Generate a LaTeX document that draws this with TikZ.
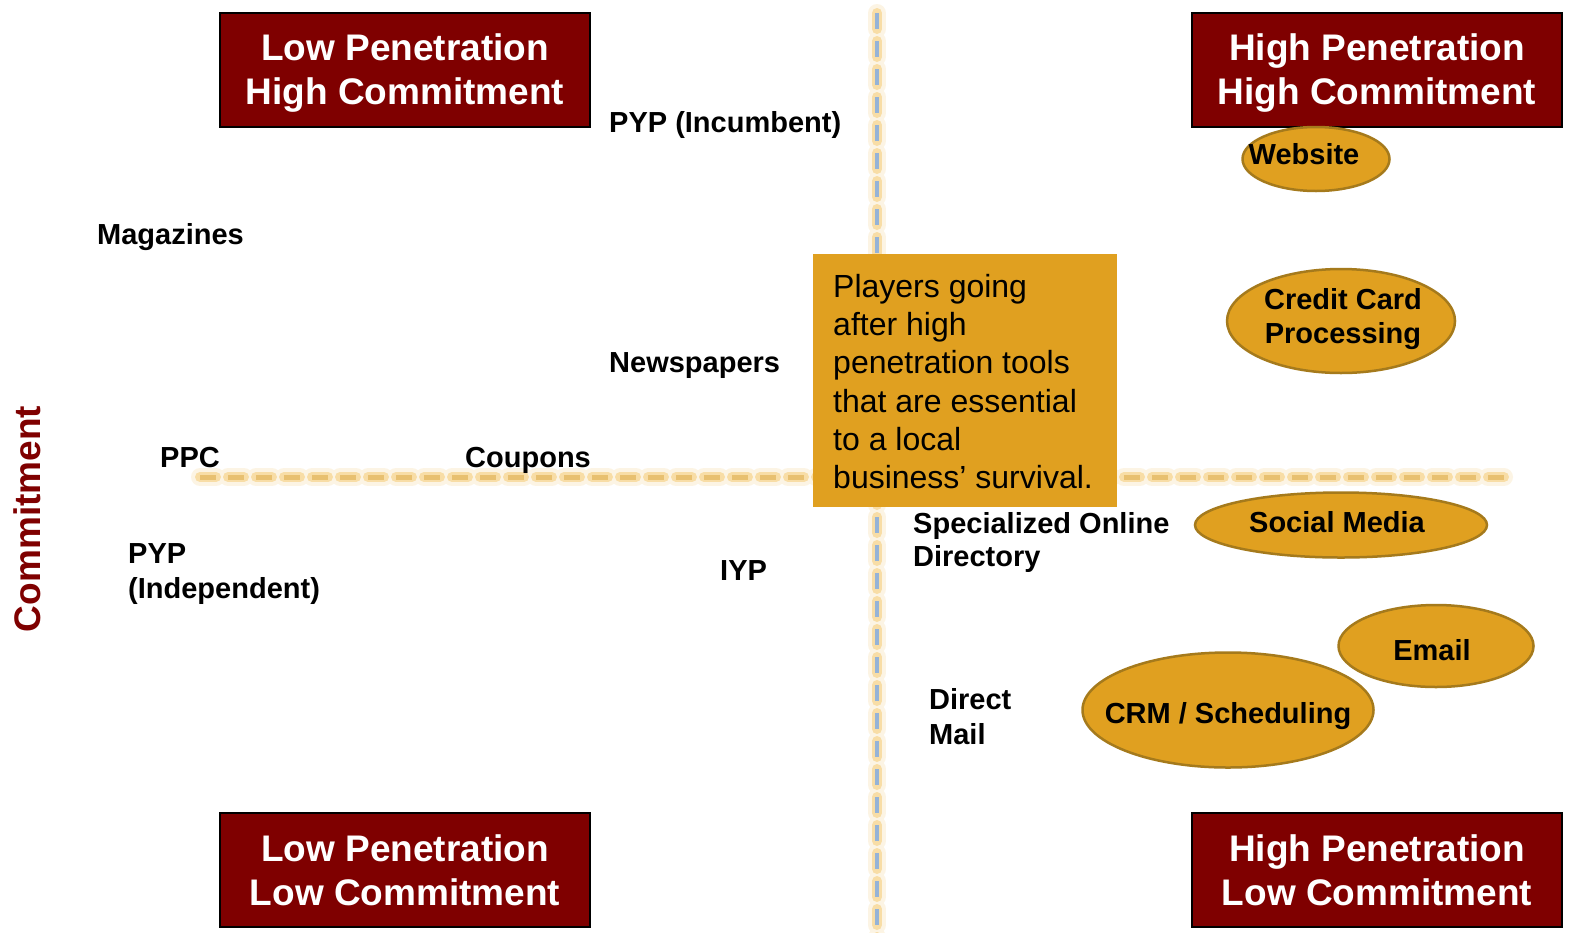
\documentclass[tikz,border=0pt]{standalone}
\usepackage{fontspec}
\setmainfont{Liberation Sans}
\usetikzlibrary{shapes.geometric}
\definecolor{boxred}{HTML}{7F0000}
\definecolor{gold}{HTML}{E0A020}
\definecolor{goldedge}{HTML}{A57A1C}
\definecolor{glowc}{HTML}{F8DDA6}
\definecolor{hcore}{HTML}{E8C070}
\definecolor{vcore}{HTML}{95B3D7}
\begin{document}
\begin{tikzpicture}[x=1pt,y=-1pt,
  quad/.style={draw=black,line width=1.5pt,fill=boxred,minimum width=370pt,minimum height=114pt,inner sep=0pt},
  quadtext/.style={text=white,font=\fontsize{37}{44}\selectfont\bfseries,align=center,anchor=north,inner sep=0pt},
  lbl/.style={font=\fontsize{29}{35}\selectfont\bfseries,inner sep=0pt,anchor=west,text height=20.8pt,text depth=0pt},
  clbl/.style={font=\fontsize{29}{35}\selectfont\bfseries,inner sep=0pt,anchor=center,text height=20.8pt,text depth=0pt},
  mlbl/.style={font=\fontsize{29}{35}\selectfont\bfseries,inner sep=0pt,anchor=north west,align=left},
  tool/.style={ellipse,draw=goldedge,line width=2.5pt,fill=gold,inner sep=0pt},
  glowfaint/.style={line width=18pt,glowc,opacity=.3,line cap=round,dash pattern=on 16pt off 12pt},
  glowmain/.style={line width=10pt,glowc,line cap=round,dash pattern=on 16pt off 12pt},
  hcoreline/.style={line width=5pt,hcore,dash pattern=on 16pt off 12pt},
  vcoreline/.style={line width=4pt,vcore,dash pattern=on 16pt off 12pt}]
\fill[white] (0,0) rectangle (1581,932);
\useasboundingbox (0,0) rectangle (1581,932);

% axes
\coordinate (hl) at (200,477);
\coordinate (hr) at (1513,477);
\coordinate (vt) at (877,13);
\coordinate (vb) at (877,940);
\draw[glowfaint] (hl) -- (hr);
\draw[glowfaint] (vt) -- (vb);
\draw[glowmain] (hl) -- (hr);
\draw[glowmain] (vt) -- (vb);
\draw[hcoreline] (hl) -- (hr);
\draw[vcoreline] (vt) -- (vb);

% quadrant boxes
\node[quad] (tl) at (405,70) {};
\node[quadtext] (tlt) at (405,33) {Low Penetration\\High Commitment};
\node[quad] (tr) at (1377,70) {};
\node[quadtext] (trt) at (1377,33) {High Penetration\\High Commitment};
\node[quad] (bl) at (405,870) {};
\node[quadtext] (blt) at (405,834) {Low Penetration\\Low Commitment};
\node[quad] (br) at (1377,870) {};
\node[quadtext] (brt) at (1377,834) {High Penetration\\Low Commitment};

% axis title
\node[rotate=90,font=\fontsize{37}{44}\selectfont\bfseries,text=boxred,inner sep=0pt,text height=26.5pt,text depth=0pt] (axis) at (27,519) {Commitment};

% plain labels
\node[lbl] (pypi) at (609,122) {PYP (Incumbent)};
\node[lbl] (mag) at (97,234) {Magazines};
\node[lbl] (news) at (609,362) {Newspapers};
\node[lbl] (ppc) at (160,457) {PPC};
\node[lbl] (coup) at (465,457) {Coupons};
\node[lbl] (iyp) at (720,570) {IYP};
\node[mlbl] (pypind) at (128,543) {PYP\\(Independent)};
\node[mlbl,font=\fontsize{29}{33.5}\selectfont\bfseries] (sod) at (913,512) {Specialized Online\\Directory};
\node[mlbl] (dm) at (929,688) {Direct\\Mail};

% tools
\node[tool,minimum width=147pt,minimum height=64pt] (web) at (1316,159) {};
\node[clbl] (webt) at (1304,154) {Website};
\node[tool,minimum width=228pt,minimum height=104pt] (cc) at (1341,321) {};
\node[font=\fontsize{29}{34.5}\selectfont\bfseries,inner sep=0pt,anchor=north,align=center] (cct) at (1343,288) {Credit Card\\Processing};
\node[tool,minimum width=292pt,minimum height=65pt] (sm) at (1341,525) {};
\node[clbl] (smt) at (1337,522) {Social Media};
\node[tool,minimum width=195pt,minimum height=82pt] (em) at (1436,646) {};
\node[clbl] (emt) at (1432,650) {Email};
\node[tool,minimum width=291pt,minimum height=115pt] (crm) at (1228,710) {};
\node[clbl] (crmt) at (1228,713) {CRM / Scheduling};

% central note
\node[fill=gold,minimum width=304pt,minimum height=253pt,inner sep=0pt,anchor=north west] (note) at (813,254) {};
\node[font=\fontsize{32}{38.3}\selectfont,inner sep=0pt,anchor=north west,align=left] (notet) at (833,274) {Players going\\after high\\penetration tools\\that are essential\\to a local\\business’ survival.};
\end{tikzpicture}
\end{document}
